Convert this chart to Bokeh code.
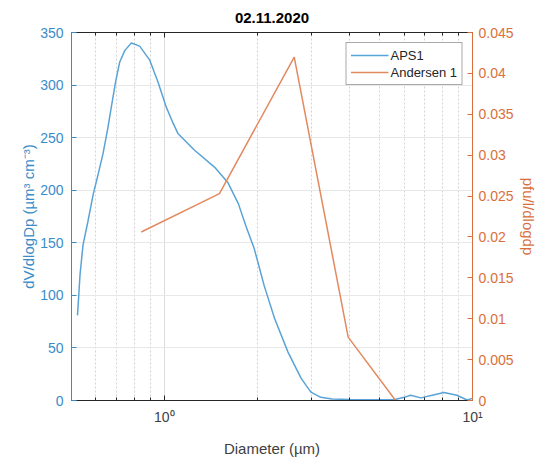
from bokeh.plotting import figure
from bokeh.models import (Range1d, LinearAxis, LogAxis, FixedTicker, CustomJSTickFormatter,
                          Legend, LegendItem)
from bokeh.embed import file_html
from bokeh.resources import INLINE

# ---- data ----
aps_diam = [0.523, 0.533, 0.545, 0.565, 0.588, 0.610, 0.633, 0.655, 0.674, 0.695, 0.717,
            0.745, 0.782, 0.832, 0.896, 0.954, 1.015, 1.067, 1.107, 1.254, 1.455, 1.61,
            1.74, 1.84, 1.96, 2.11, 2.28, 2.52, 2.78, 2.99, 3.22, 3.5, 4.0, 5.0, 5.6,
            6.0, 6.3, 6.8, 7.4, 8.08, 8.9, 9.6, 10.0]
aps_val = [81, 120, 148, 170, 196, 215, 235, 258, 280, 303, 322,
           333, 340, 337, 324, 303, 279, 264, 254, 238, 222, 207,
           187, 166, 144, 109, 78, 46, 21, 8, 3, 1.5, 1, 0.8, 1,
           3, 5, 2.5, 5, 7.6, 5, 0.5, 2]
and_diam = [0.842, 1.51, 2.64, 3.95, 5.63]
and_val = [0.0206, 0.0253, 0.0420, 0.00775, 0.0]

x_major_ticks = [1, 10]
x_minor_ticks = [0.5, 0.6, 0.7, 0.8, 0.9, 2, 3, 4, 5, 6, 7, 8, 9]
y_left_ticks = [0, 50, 100, 150, 200, 250, 300, 350]
y_right_ticks = [0, 0.005, 0.01, 0.015, 0.02, 0.025, 0.03, 0.035, 0.04, 0.045]

title_text = "02.11.2020"
x_label = "Diameter (µm)"
y_left_label = "dV/dlogDp (µm³ cm⁻³)"
y_right_label = "pfu/l/dlogdp"

BLUE_T = "#3a8cc8"
BLUE_L = "#5aa3d6"
ORANGE_T = "#d9703c"
ORANGE_L = "#e2895f"
DARK = "#262626"
FONT = "Liberation Sans"

p = figure(width=539, height=459, x_axis_type="log",
           x_range=Range1d(0.5, 10), y_range=Range1d(0, 350),
           output_backend="svg", toolbar_location=None,
           min_border_left=71, min_border_right=67, min_border_top=32, min_border_bottom=57)
p.extra_y_ranges = {"right": Range1d(0, 0.045)}
p.outline_line_color = None
p.background_fill_color = "white"
p.border_fill_color = "white"

p.title.text = title_text
p.title.align = "center"
p.title.text_font = FONT
p.title.text_font_size = "15px"
p.title.text_font_style = "bold"
p.title.text_color = "black"
p.title.standoff = 19

xticker = FixedTicker(ticks=x_major_ticks, minor_ticks=x_minor_ticks)
xfmt = CustomJSTickFormatter(code="""
if (Math.abs(tick - 1) < 1e-9) return "10\u2070";
if (Math.abs(tick - 10) < 1e-9) return "10\u00b9";
return "";
""")

# bottom axis
xa = p.xaxis[0]
xa.ticker = xticker
xa.formatter = xfmt
xa.axis_label = x_label
xa.axis_label_text_font = FONT
xa.axis_label_text_font_size = "15px"
xa.axis_label_text_font_style = "normal"
xa.axis_label_text_color = "#404040"
xa.axis_label_standoff = 12
xa.major_label_text_font = FONT
xa.major_label_text_font_size = "14px"
xa.major_label_text_color = "#404040"
xa.major_label_standoff = 8
xa.axis_line_color = DARK
xa.major_tick_line_color = DARK
xa.minor_tick_line_color = DARK
xa.major_tick_in = 5
xa.major_tick_out = 0
xa.minor_tick_in = 3
xa.minor_tick_out = 0

# top axis (box)
ta = LogAxis(ticker=xticker, formatter=CustomJSTickFormatter(code="return '';"),
             axis_line_color=DARK, major_tick_line_color=DARK, minor_tick_line_color=DARK,
             major_tick_in=5, major_tick_out=0, minor_tick_in=3, minor_tick_out=0,
             major_label_text_font_size="1px", major_label_standoff=0)
p.add_layout(ta, "above")

# left axis
ya = p.yaxis[0]
ya.ticker = FixedTicker(ticks=y_left_ticks)
ya.axis_label = y_left_label
ya.axis_label_text_font = FONT
ya.axis_label_text_font_size = "15px"
ya.axis_label_text_font_style = "normal"
ya.axis_label_text_color = BLUE_T
ya.axis_label_standoff = 0
ya.major_label_text_font = FONT
ya.major_label_text_font_size = "14px"
ya.major_label_text_color = BLUE_T
ya.major_label_standoff = 8
ya.axis_line_color = BLUE_T
ya.major_tick_line_color = BLUE_T
ya.minor_tick_line_color = None
ya.major_tick_in = 5
ya.major_tick_out = 0

# right axis
ra = LinearAxis(y_range_name="right", ticker=FixedTicker(ticks=y_right_ticks),
                formatter=CustomJSTickFormatter(code="return String(parseFloat(tick.toFixed(4)));"),
                axis_label=y_right_label, axis_label_text_font=FONT,
                axis_label_text_font_size="15px", axis_label_text_font_style="normal",
                axis_label_text_color=ORANGE_T, axis_label_standoff=3,
                major_label_text_font=FONT, major_label_text_font_size="14px",
                major_label_text_color=ORANGE_T, major_label_standoff=6,
                axis_line_color=ORANGE_T, major_tick_line_color=ORANGE_T,
                minor_tick_line_color=None, major_tick_in=5, major_tick_out=0)
p.add_layout(ra, "right")

# grids
p.ygrid.ticker = FixedTicker(ticks=y_left_ticks)
p.ygrid.grid_line_color = "#e8e8e8"
p.ygrid.grid_line_width = 1
p.xgrid.ticker = xticker
p.xgrid.grid_line_color = "#dcdcdc"
p.xgrid.minor_grid_line_color = "#d2d2d2"
p.xgrid.minor_grid_line_dash = "2 2"

r1 = p.line(aps_diam, aps_val, line_color=BLUE_L, line_width=1.5)
r2 = p.line(and_diam, and_val, line_color=ORANGE_L, line_width=1.5, y_range_name="right")

legend = Legend(items=[LegendItem(label="APS1", renderers=[r1]),
                       LegendItem(label="Andersen 1", renderers=[r2])],
                location="top_right")
legend.label_text_font = FONT
legend.label_text_font_size = "13px"
legend.label_text_color = "#262626"
legend.glyph_width = 38
legend.glyph_height = 16
legend.label_height = 16
legend.label_standoff = 2
legend.spacing = 1
legend.padding = 4
legend.margin = 10
legend.border_line_color = "#555555"
legend.border_line_width = 1
legend.background_fill_color = "white"
p.add_layout(legend, "center")

open("out.html", "w").write(file_html(p, INLINE))
